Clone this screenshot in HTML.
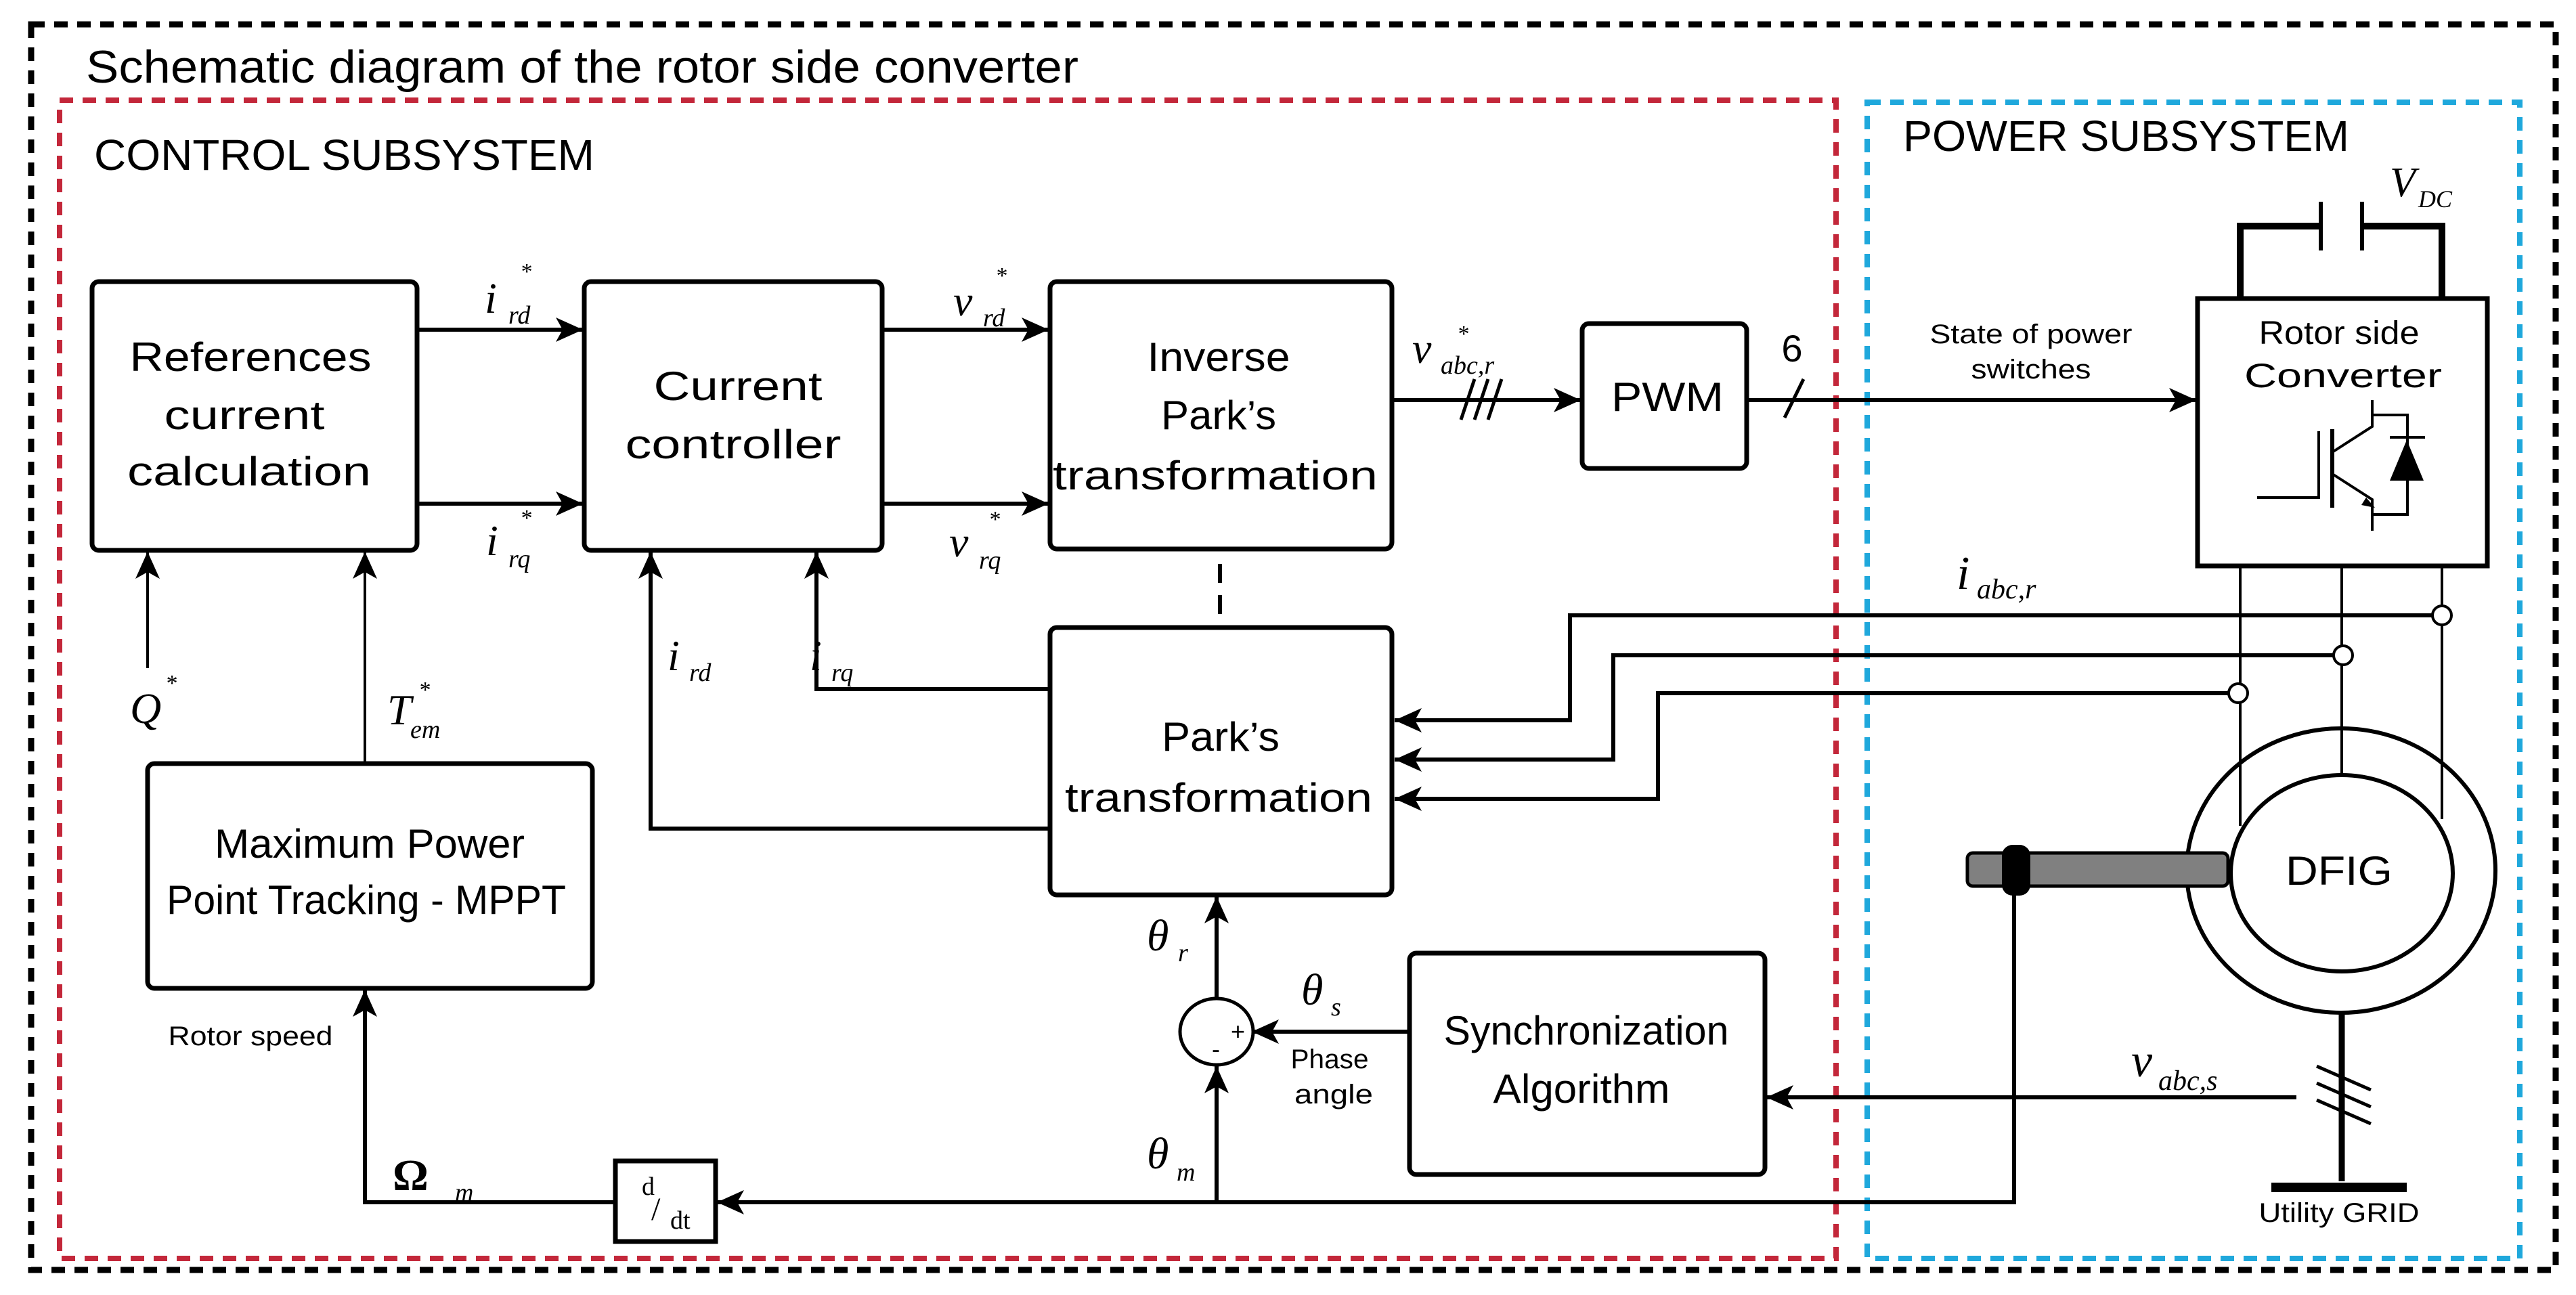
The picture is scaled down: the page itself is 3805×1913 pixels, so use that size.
<!DOCTYPE html>
<html><head><meta charset="utf-8"><style>
html,body{margin:0;padding:0;background:#fff}
svg{display:block}
.t{font-family:"Liberation Sans",sans-serif;fill:#000}
.m{font-family:"Liberation Serif",serif;font-style:italic;fill:#000}
</style></head><body>
<svg width="3805" height="1913" viewBox="0 0 3805 1913" xmlns="http://www.w3.org/2000/svg">
<defs>
<marker id="a" markerUnits="userSpaceOnUse" markerWidth="44" markerHeight="36" refX="40" refY="18" orient="auto">
<path d="M0,0 L40,18 L0,36 L10,18 Z" fill="#000"/></marker>
</defs>
<rect x="46" y="36" width="3729" height="1840" fill="none" stroke="#000" stroke-width="9" stroke-dasharray="20 14"/>
<rect x="88" y="148" width="2624" height="1711" fill="none" stroke="#c3273a" stroke-width="8" stroke-dasharray="20 14"/>
<rect x="2758" y="151" width="964" height="1708" fill="none" stroke="#1fa8dc" stroke-width="8" stroke-dasharray="20 14"/>
<text class="t" x="127" y="122" font-size="68" textLength="1466" lengthAdjust="spacingAndGlyphs">Schematic diagram of the rotor side converter</text>
<text class="t" x="139" y="251" font-size="64" textLength="739" lengthAdjust="spacingAndGlyphs">CONTROL SUBSYSTEM</text>
<text class="t" x="2811" y="223" font-size="64" textLength="659" lengthAdjust="spacingAndGlyphs">POWER SUBSYSTEM</text>

<g fill="none" stroke="#000" stroke-width="7">
<rect x="136" y="416" width="480" height="397" rx="10"/>
<rect x="863" y="416" width="440" height="397" rx="10"/>
<rect x="1551" y="416" width="505" height="395" rx="10"/>
<rect x="2337" y="478" width="243" height="214" rx="10"/>
<rect x="1551" y="927" width="505" height="395" rx="10"/>
<rect x="218" y="1128" width="657" height="332" rx="10"/>
<rect x="2082" y="1408" width="525" height="327" rx="10"/>
<rect x="3246" y="441" width="428" height="395"/>
<rect x="909" y="1715" width="148" height="119"/>
</g>
<g class="t" font-size="60" text-anchor="middle">
<text x="370" y="548" textLength="357" lengthAdjust="spacingAndGlyphs">References</text>
<text x="361" y="634" textLength="237" lengthAdjust="spacingAndGlyphs">current</text>
<text x="368" y="717" textLength="360" lengthAdjust="spacingAndGlyphs">calculation</text>
<text x="1090" y="591" textLength="249" lengthAdjust="spacingAndGlyphs">Current</text>
<text x="1083" y="677" textLength="319" lengthAdjust="spacingAndGlyphs">controller</text>
<text x="1800" y="548" textLength="211" lengthAdjust="spacingAndGlyphs">Inverse</text>
<text x="1800" y="634" textLength="170" lengthAdjust="spacingAndGlyphs">Park’s</text>
<text x="1795" y="723" textLength="480" lengthAdjust="spacingAndGlyphs">transformation</text>
<text x="2463" y="607" textLength="166" lengthAdjust="spacingAndGlyphs">PWM</text>
<text x="1803" y="1109" textLength="174" lengthAdjust="spacingAndGlyphs">Park’s</text>
<text x="1800" y="1199" textLength="454" lengthAdjust="spacingAndGlyphs">transformation</text>
<text x="546" y="1267" textLength="458" lengthAdjust="spacingAndGlyphs">Maximum Power</text>
<text x="541" y="1350" textLength="590" lengthAdjust="spacingAndGlyphs">Point Tracking - MPPT</text>
<text x="2343" y="1543" textLength="421" lengthAdjust="spacingAndGlyphs">Synchronization</text>
<text x="2336" y="1629" textLength="261" lengthAdjust="spacingAndGlyphs">Algorithm</text>
<text x="3455" y="1307" textLength="158" lengthAdjust="spacingAndGlyphs">DFIG</text>
<text x="2647" y="534" font-size="56">6</text>
</g>
<g class="t" font-size="40" text-anchor="middle">
<text x="3000" y="507" textLength="299" lengthAdjust="spacingAndGlyphs">State of power</text>
<text x="3000" y="559" textLength="177" lengthAdjust="spacingAndGlyphs">switches</text>
<text x="3455" y="508" font-size="48" textLength="237" lengthAdjust="spacingAndGlyphs">Rotor side</text>
<text x="3461" y="572" font-size="50" textLength="292" lengthAdjust="spacingAndGlyphs">Converter</text>
<text x="3455" y="1805" textLength="237" lengthAdjust="spacingAndGlyphs">Utility GRID</text>
<text x="1964" y="1578" textLength="115" lengthAdjust="spacingAndGlyphs">Phase</text>
<text x="1970" y="1630" textLength="116" lengthAdjust="spacingAndGlyphs">angle</text>
<text x="370" y="1544" textLength="243" lengthAdjust="spacingAndGlyphs">Rotor speed</text>
</g>

<g fill="none" stroke="#000" stroke-width="6">
<line x1="616" y1="487" x2="861" y2="487" marker-end="url(#a)"/>
<line x1="616" y1="744" x2="861" y2="744" marker-end="url(#a)"/>
<line x1="1303" y1="487" x2="1549" y2="487" marker-end="url(#a)"/>
<line x1="1303" y1="744" x2="1549" y2="744" marker-end="url(#a)"/>
<line x1="2056" y1="591" x2="2335" y2="591" marker-end="url(#a)"/>
<line x1="2580" y1="591" x2="3244" y2="591" marker-end="url(#a)"/>
<path d="M2319,909 L3595,909 M2319,906 L2319,1064 L2060,1064" marker-end="url(#a)"/>
<path d="M2383,968 L3449,968 M2383,965 L2383,1122 L2060,1122" marker-end="url(#a)"/>
<path d="M2449,1024 L3294,1024 M2449,1021 L2449,1180 L2060,1180" marker-end="url(#a)"/>
<path d="M1551,1224 L961,1224 L961,815" marker-end="url(#a)"/>
<path d="M1551,1018 L1206,1018 L1206,815" marker-end="url(#a)"/>
<line x1="3392" y1="1621" x2="2609" y2="1621" marker-end="url(#a)"/>
<path d="M2082,1524 L1849,1524" marker-end="url(#a)"/>
<line x1="1797" y1="1776" x2="1797" y2="1575" marker-end="url(#a)"/>
<line x1="1797" y1="1474" x2="1797" y2="1324" marker-end="url(#a)"/>
<path d="M2975,1320 L2975,1776 L1059,1776" marker-end="url(#a)"/>
<path d="M909,1776 L539,1776 L539,1462" marker-end="url(#a)"/>
</g>
<g fill="none" stroke="#000" stroke-width="4">
<line x1="218" y1="987" x2="218" y2="815" marker-end="url(#a)"/>
<line x1="539" y1="1128" x2="539" y2="815" marker-end="url(#a)"/>
<line x1="1802" y1="833" x2="1802" y2="924" stroke-width="6" stroke-dasharray="28 18"/>
<path d="M2158,620 L2178,560 M2178,620 L2198,560 M2198,620 L2218,560" stroke-width="5"/>
<path d="M2636,617 L2664,560" stroke-width="5"/>
<path d="M3422,1575 L3502,1610 M3422,1600 L3502,1635 M3422,1625 L3502,1660" stroke-width="5"/>
<line x1="3309" y1="836" x2="3309" y2="1220"/>
<line x1="3459" y1="836" x2="3459" y2="1145"/>
<line x1="3607" y1="836" x2="3607" y2="1210"/>
<ellipse cx="3458" cy="1286" rx="228" ry="210" stroke-width="6"/>
<ellipse cx="3459" cy="1290" rx="164" ry="145" stroke-width="6"/>
<path d="M3309,441 L3309,334 L3428,334 M3489,334 L3607,334 L3607,441" stroke-width="10"/>
<line x1="3428" y1="298" x2="3428" y2="370" stroke-width="6"/>
<line x1="3489" y1="298" x2="3489" y2="370" stroke-width="6"/>
<path d="M3334,735 L3425,735 L3425,637"/>
<line x1="3445" y1="634" x2="3445" y2="750" stroke-width="6"/>
<path d="M3445,668 L3504,630 L3504,591 M3445,700 L3504,738 L3504,784"/>
<path d="M3504,613 L3556,613 L3556,760 L3504,760"/>
<line x1="3530" y1="646" x2="3582" y2="646"/>
<line x1="3459" y1="1497" x2="3459" y2="1745" stroke-width="9"/>
</g>
<polygon points="3530,710 3580,710 3555,650" fill="#000"/>
<polygon points="3495,735 3508,750 3488,746" fill="#000"/>
<rect x="3355" y="1747" width="200" height="14" fill="#000"/>
<circle cx="3607" cy="909" r="14" fill="#fff" stroke="#000" stroke-width="4"/>
<circle cx="3461" cy="968" r="14" fill="#fff" stroke="#000" stroke-width="4"/>
<circle cx="3306" cy="1024" r="14" fill="#fff" stroke="#000" stroke-width="4"/>
<rect x="2906" y="1260" width="385" height="49" rx="8" fill="#808080" stroke="#000" stroke-width="5"/>
<rect x="2957" y="1248" width="42" height="75" rx="16" fill="#000"/>
<ellipse cx="1797" cy="1524" rx="54" ry="49" fill="#fff" stroke="#000" stroke-width="5"/>
<text class="t" x="1818" y="1536" font-size="36">+</text>
<text class="t" x="1790" y="1562" font-size="36">-</text>

<g class="m">
<text x="716" y="462" font-size="64">i</text><text x="751" y="478" font-size="38">rd</text><text x="768" y="412" font-size="34">*</text>
<text x="718" y="820" font-size="64">i</text><text x="751" y="838" font-size="38">rq</text><text x="768" y="776" font-size="34">*</text>
<text x="1408" y="466" font-size="64">v</text><text x="1452" y="482" font-size="38">rd</text><text x="1470" y="418" font-size="34">*</text>
<text x="1402" y="822" font-size="64">v</text><text x="1446" y="840" font-size="38">rq</text><text x="1460" y="778" font-size="34">*</text>
<text x="2086" y="536" font-size="64">v</text><text x="2128" y="552" font-size="38">abc,r</text><text x="2152" y="504" font-size="34">*</text>
<text x="2890" y="870" font-size="70">i</text><text x="2920" y="884" font-size="42">abc,r</text>
<text x="3148" y="1590" font-size="70">v</text><text x="3188" y="1610" font-size="42">abc,s</text>
<text x="3530" y="290" font-size="62">V</text><text x="3572" y="306" font-size="36">DC</text>
<text x="986" y="990" font-size="64">i</text><text x="1018" y="1006" font-size="38">rd</text>
<text x="1196" y="990" font-size="64">i</text><text x="1228" y="1006" font-size="38">rq</text>
<text x="192" y="1068" font-size="64">Q</text><text x="244" y="1020" font-size="34">*</text>
<text x="572" y="1070" font-size="64">T</text><text x="606" y="1090" font-size="38">em</text><text x="618" y="1030" font-size="34">*</text>
<text x="1694" y="1404" font-size="66">θ</text><text x="1740" y="1420" font-size="38">r</text>
<text x="1694" y="1726" font-size="66">θ</text><text x="1738" y="1744" font-size="38">m</text>
<text x="1922" y="1484" font-size="66">θ</text><text x="1966" y="1500" font-size="38">s</text>
<text x="672" y="1774" font-size="38">m</text>
<text x="948" y="1765" font-size="38" font-style="normal">d</text>
<text x="962" y="1802" font-size="48" font-style="normal">/</text>
<text x="990" y="1815" font-size="38" font-style="normal">dt</text>
</g>
<text x="580" y="1758" font-family="Liberation Serif,serif" font-weight="bold" font-size="66">Ω</text>
</svg>
</body></html>
